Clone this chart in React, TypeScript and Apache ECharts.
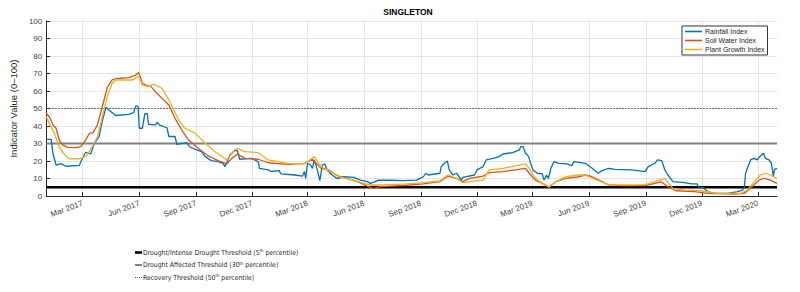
import React, { useEffect, useRef } from 'react';
import * as echarts from 'echarts';

const TITLE = 'SINGLETON';
const Y_NAME = 'Indicator Value (0–100)';
const START_DATE = '2017-01-01';
const END_DATE = '2020-04-01';
const TICK_MONTHS = ['03', '06', '09', '12'];
const MONTH_NAMES: Record<string, string> = { '03': 'Mar', '06': 'Jun', '09': 'Sep', '12': 'Dec' };

const rainfallIndex: [string, number][] = [
  ['2017-01-01', 32.4], ['2017-01-09', 32.4], ['2017-01-12', 24], ['2017-01-17', 17.7], ['2017-01-25', 18.5],
  ['2017-02-02', 17], ['2017-02-24', 17.5], ['2017-02-26', 19.6], ['2017-03-06', 25], ['2017-03-14', 24],
  ['2017-03-20', 30], ['2017-03-28', 34], ['2017-04-02', 43], ['2017-04-08', 50.7], ['2017-04-13', 49],
  ['2017-04-24', 46], ['2017-05-15', 46.7], ['2017-05-23', 47.6], ['2017-05-26', 51.4], ['2017-05-30', 51.4],
  ['2017-06-01', 38.7], ['2017-06-06', 38.7], ['2017-06-10', 47], ['2017-06-14', 47], ['2017-06-16', 41],
  ['2017-06-27', 40.6], ['2017-06-30', 42], ['2017-07-04', 40.5], ['2017-07-16', 39], ['2017-07-19', 34],
  ['2017-07-29', 34], ['2017-08-01', 29.5], ['2017-08-17', 30.5], ['2017-08-22', 28], ['2017-08-31', 26.7],
  ['2017-09-10', 25.3], ['2017-09-16', 22.5], ['2017-09-26', 20.2], ['2017-10-07', 19.6], ['2017-10-15', 18.7],
  ['2017-10-18', 16.8], ['2017-10-21', 19], ['2017-10-26', 23.4], ['2017-11-03', 26], ['2017-11-07', 26],
  ['2017-11-11', 21], ['2017-11-30', 21.5], ['2017-12-11', 19.6], ['2017-12-13', 15.8], ['2017-12-27', 14.9],
  ['2018-01-01', 14], ['2018-01-14', 14.5], ['2018-01-17', 12.6], ['2018-02-08', 12], ['2018-02-21', 11.4],
  ['2018-02-24', 14], ['2018-02-26', 10], ['2018-03-01', 18.7], ['2018-03-06', 17.7], ['2018-03-09', 15.8],
  ['2018-03-12', 20.6], ['2018-03-17', 14.9], ['2018-03-21', 8.8], ['2018-03-25', 17.7], ['2018-03-29', 18.3],
  ['2018-04-02', 14.9], ['2018-04-10', 12], ['2018-04-18', 10], ['2018-04-29', 11], ['2018-05-15', 10.7],
  ['2018-05-26', 9.1], ['2018-06-06', 8.2], ['2018-06-11', 7.2], ['2018-06-19', 8.2], ['2018-06-24', 9.1],
  ['2018-07-13', 9], ['2018-08-04', 8.8], ['2018-08-25', 9.1], ['2018-09-05', 11], ['2018-09-09', 13],
  ['2018-09-13', 12], ['2018-10-02', 13], ['2018-10-04', 16.8], ['2018-10-10', 19], ['2018-10-14', 20],
  ['2018-10-17', 14.9], ['2018-10-23', 12], ['2018-10-29', 13], ['2018-11-06', 9.1], ['2018-11-08', 10.7],
  ['2018-11-27', 12], ['2018-12-01', 14.9], ['2018-12-11', 16.8], ['2018-12-16', 20.6], ['2018-12-27', 21.5],
  ['2019-01-06', 22.5], ['2019-01-12', 24], ['2019-01-28', 24.8], ['2019-02-08', 26.3], ['2019-02-10', 28.2],
  ['2019-02-14', 28.2], ['2019-02-18', 24.4], ['2019-02-23', 22.5], ['2019-02-26', 18.7], ['2019-03-02', 14.9],
  ['2019-03-09', 13], ['2019-03-17', 12.6], ['2019-03-20', 9.1], ['2019-03-24', 12], ['2019-03-27', 10],
  ['2019-03-31', 15.8], ['2019-04-05', 19.6], ['2019-04-13', 18.7], ['2019-04-26', 18.3], ['2019-05-04', 17.3],
  ['2019-05-07', 19.6], ['2019-05-26', 18.7], ['2019-06-06', 15.8], ['2019-06-16', 13], ['2019-06-22', 14.5],
  ['2019-07-03', 15.8], ['2019-07-13', 15.2], ['2019-08-09', 14.9], ['2019-08-31', 13.9], ['2019-09-05', 16.8],
  ['2019-09-16', 18.7], ['2019-09-20', 20.6], ['2019-09-27', 20.2], ['2019-10-02', 14.9], ['2019-10-07', 12],
  ['2019-10-15', 8.2], ['2019-11-03', 7.6], ['2019-11-14', 6.9], ['2019-11-23', 6.9], ['2019-11-27', 4.4],
  ['2019-12-02', 5], ['2019-12-11', 2.5], ['2019-12-19', 1.5], ['2020-01-12', 1.5], ['2020-01-28', 2.5],
  ['2020-02-05', 3.4], ['2020-02-08', 5], ['2020-02-10', 13], ['2020-02-18', 20.6], ['2020-02-24', 21.5],
  ['2020-02-29', 20.6], ['2020-03-05', 22.9], ['2020-03-10', 24.4], ['2020-03-13', 21.5], ['2020-03-19', 20.6],
  ['2020-03-23', 18.7], ['2020-03-26', 11], ['2020-03-28', 15.2], ['2020-04-01', 15.8],
];

const soilWaterIndex: [string, number][] = [
  ['2017-01-01', 47.2], ['2017-01-06', 45.3], ['2017-01-12', 40.6], ['2017-01-17', 38.7], ['2017-01-22', 32],
  ['2017-01-28', 29.1], ['2017-02-05', 27.8], ['2017-02-18', 27.6], ['2017-02-26', 28.2], ['2017-03-06', 32],
  ['2017-03-12', 35.8], ['2017-03-18', 36.2], ['2017-03-25', 40.6], ['2017-04-02', 51], ['2017-04-10', 62],
  ['2017-04-18', 66.3], ['2017-04-24', 67], ['2017-05-15', 67.6], ['2017-05-26', 69.1], ['2017-05-31', 70.5],
  ['2017-06-06', 64.4], ['2017-06-14', 62.9], ['2017-06-19', 62.9], ['2017-06-27', 59.6], ['2017-07-08', 55.8],
  ['2017-07-19', 52], ['2017-07-29', 44.4], ['2017-08-09', 37.7], ['2017-08-20', 32], ['2017-09-05', 27.2],
  ['2017-09-21', 22.9], ['2017-10-07', 20.2], ['2017-10-21', 18.3], ['2017-10-29', 21.5], ['2017-11-08', 24],
  ['2017-11-19', 21.5], ['2017-12-11', 21], ['2017-12-27', 19], ['2018-01-28', 18.1], ['2018-02-24', 18.7],
  ['2018-03-09', 21], ['2018-03-23', 15.8], ['2018-04-05', 14.9], ['2018-04-18', 11.6], ['2018-05-04', 10.1],
  ['2018-05-21', 8.2], ['2018-06-06', 5.7], ['2018-06-16', 4.4], ['2018-06-27', 5.3], ['2018-08-04', 6],
  ['2018-09-05', 6.9], ['2018-10-02', 8.2], ['2018-10-15', 11.4], ['2018-10-29', 10.1], ['2018-11-08', 8.2],
  ['2018-11-19', 10.1], ['2018-12-11', 11.4], ['2018-12-21', 13.3], ['2019-01-12', 13.9], ['2019-02-18', 15.8],
  ['2019-02-24', 13], ['2019-03-06', 9.1], ['2019-03-17', 7.2], ['2019-03-28', 5.3], ['2019-04-08', 8.2],
  ['2019-04-24', 10.1], ['2019-05-15', 11], ['2019-05-26', 12], ['2019-06-06', 11], ['2019-06-22', 8.2],
  ['2019-07-03', 6.3], ['2019-07-24', 5.9], ['2019-08-31', 5.9], ['2019-09-16', 7.2], ['2019-09-26', 8.2],
  ['2019-10-07', 5.3], ['2019-10-20', 3], ['2019-11-19', 2.5], ['2019-12-11', 1.5], ['2020-01-23', 1.1],
  ['2020-02-08', 1.5], ['2020-02-18', 4.4], ['2020-03-03', 9.1], ['2020-03-11', 10.1], ['2020-03-21', 9.1],
  ['2020-04-01', 7.2],
];

const plantGrowthIndex: [string, number][] = [
  ['2017-01-01', 45.3], ['2017-01-06', 41.5], ['2017-01-14', 35.8], ['2017-01-22', 28.2], ['2017-01-31', 23.4],
  ['2017-02-08', 21.3], ['2017-02-24', 21.3], ['2017-03-06', 22.5], ['2017-03-17', 28.2], ['2017-03-25', 33.9],
  ['2017-04-02', 45.3], ['2017-04-10', 56.8], ['2017-04-18', 64.4], ['2017-04-24', 66.3], ['2017-05-21', 66.3],
  ['2017-05-31', 68.6], ['2017-06-06', 63.4], ['2017-06-16', 62.5], ['2017-06-24', 64], ['2017-07-08', 61.5],
  ['2017-07-19', 54.9], ['2017-08-04', 43.4], ['2017-08-14', 38.7], ['2017-08-31', 35.8], ['2017-09-16', 30.1],
  ['2017-10-02', 25.3], ['2017-10-21', 20.6], ['2017-11-03', 26.3], ['2017-11-08', 27.2], ['2017-11-19', 25.3],
  ['2017-12-11', 24.8], ['2017-12-27', 20.6], ['2018-01-28', 18.7], ['2018-02-24', 18.3], ['2018-03-12', 22.5],
  ['2018-03-23', 16.8], ['2018-04-08', 13.9], ['2018-04-24', 10.7], ['2018-05-15', 9.1], ['2018-05-31', 7.2],
  ['2018-06-11', 6.3], ['2018-07-02', 6.3], ['2018-08-04', 6.8], ['2018-09-05', 7.6], ['2018-10-02', 8.6],
  ['2018-10-15', 12], ['2018-10-29', 10.1], ['2018-11-08', 7.6], ['2018-11-19', 8.2], ['2018-12-11', 9.1],
  ['2018-12-21', 14.9], ['2019-01-12', 15.8], ['2019-02-18', 18.3], ['2019-02-24', 15.8], ['2019-03-06', 10.1],
  ['2019-03-17', 7.2], ['2019-03-28', 5], ['2019-04-08', 8.2], ['2019-04-24', 11], ['2019-05-15', 12],
  ['2019-05-26', 12], ['2019-06-11', 9.5], ['2019-07-03', 6.3], ['2019-08-14', 6.3], ['2019-08-31', 6.5],
  ['2019-09-16', 8.2], ['2019-10-02', 10.1], ['2019-10-15', 4.4], ['2019-11-03', 3.4], ['2019-11-30', 3],
  ['2019-12-27', 1.5], ['2020-02-02', 1.5], ['2020-02-13', 3.4], ['2020-02-24', 8.2], ['2020-03-05', 12],
  ['2020-03-13', 13], ['2020-03-21', 12], ['2020-04-01', 10.1],
];

const SERIES_NAMES = ['Rainfall Index', 'Soil Water Index', 'Plant Growth Index'];
const SERIES_COLORS = ['#0072BD', '#D95319', '#EDB120'];

const THRESHOLD_VALUES = [5, 30, 50];
const THRESHOLD_LABELS = [
  ['Drought/Intense Drought Threshold (5', 'th', ' percentile)'],
  ['Drought Affected Threshold (30', 'th', ' percentile)'],
  ['Recovery Threshold (50', 'th', ' percentile)'],
];

const FONT = 'Liberation Sans, Arial, sans-serif';
const NARROW = '"Liberation Sans Narrow", "DejaVu Sans Condensed", "Liberation Sans", sans-serif';

function buildDays(start: string, end: string): string[] {
  const out: string[] = [];
  const d = new Date(start + 'T00:00:00Z');
  const e = new Date(end + 'T00:00:00Z');
  while (d.getTime() <= e.getTime()) {
    out.push(d.toISOString().slice(0, 10));
    d.setUTCDate(d.getUTCDate() + 1);
  }
  return out;
}

const isTick = (v: string) => v.slice(8) === '01' && TICK_MONTHS.includes(v.slice(5, 7));

export default function App() {
  const ref = useRef<HTMLDivElement>(null);
  useEffect(() => {
    if (!ref.current) return;
    const chart = echarts.init(ref.current, undefined, { renderer: 'svg' });
    const days = buildDays(START_DATE, END_DATE);
    const tickFn = (_i: number, v: string) => isTick(v);

    const thresholdStyles = [
      { color: '#000000', width: 2.6, type: 'solid' as any },
      { color: '#808080', width: 2, type: 'solid' as any },
      { color: '#4a4a4a', width: 1, type: [1.5, 1.5] as any },
    ];

    const thresholdSeries = THRESHOLD_VALUES.map((v, i) => ({
      type: 'line',
      name: 'thr' + i,
      data: [[START_DATE, v], [END_DATE, v]],
      symbol: 'none',
      silent: true,
      lineStyle: thresholdStyles[i],
      z: 1,
    }));

    const dataSeries = [rainfallIndex, soilWaterIndex, plantGrowthIndex].map((d, i) => ({
      type: 'line',
      name: SERIES_NAMES[i],
      data: d,
      symbol: 'none',
      showSymbol: false,
      lineStyle: { color: SERIES_COLORS[i], width: 1.3 },
      itemStyle: { color: SERIES_COLORS[i] },
      z: 3 + i,
    }));

    const legendGraphics: any[] = [];
    const rowsY = [252.5, 265, 277.5];
    THRESHOLD_VALUES.forEach((_v, i) => {
      const st = thresholdStyles[i];
      legendGraphics.push({
        type: 'line',
        shape: { x1: 135, y1: rowsY[i], x2: 142, y2: rowsY[i] },
        style: { stroke: st.color, lineWidth: st.width, lineDash: Array.isArray(st.type) ? [1, 1] : null },
      });
      const [a, sup, b] = THRESHOLD_LABELS[i];
      legendGraphics.push({
        type: 'text',
        x: 143,
        y: rowsY[i],
        style: {
          text: `{m|${a}}{s|${sup}}{m|${b}}`,
          verticalAlign: 'middle',
          rich: {
            m: { fontSize: 6.8, fontFamily: NARROW, fill: '#262626' },
            s: { fontSize: 4.2, fontFamily: NARROW, fill: '#262626', verticalAlign: 'top', padding: [0, 0, 4, 0] },
          },
        },
      });
    });

    chart.setOption({
      animation: false,
      grid: { left: 40, right: 23, top: 21, bottom: 96, containLabel: false },
      graphic: [
        {
          type: 'text',
          x: 408,
          y: 12,
          style: {
            text: TITLE,
            textAlign: 'center',
            textVerticalAlign: 'middle',
            fontSize: 8.5,
            fontWeight: 'bold',
            fontFamily: FONT,
            fill: '#000',
          },
        },
        ...legendGraphics,
      ],
      legend: {
        data: SERIES_NAMES,
        orient: 'vertical',
        left: 682,
        top: 26,
        icon: 'rect',
        itemWidth: 17,
        itemHeight: 1.6,
        itemGap: 0,
        padding: [1, 3, 1, 3],
        borderColor: '#333',
        borderWidth: 1,
        borderRadius: 0,
        backgroundColor: '#fff',
        textStyle: { fontSize: 7, lineHeight: 9, fontFamily: FONT, color: '#262626', padding: [0, 0, 0, -2] },
      },
      xAxis: {
        type: 'category',
        data: days,
        boundaryGap: false,
        axisLine: { show: true, lineStyle: { color: '#262626', width: 1 } },
        axisTick: { show: true, inside: true, length: 4, interval: tickFn, lineStyle: { color: '#262626' } },
        axisLabel: {
          interval: tickFn,
          rotate: 20,
          margin: 7,
          fontSize: 8,
          fontFamily: FONT,
          color: '#404040',
          formatter: (v: string) => `${MONTH_NAMES[v.slice(5, 7)]} ${v.slice(0, 4)}`,
        },
        splitLine: { show: true, interval: tickFn, lineStyle: { color: '#e3e3e3', width: 1 } },
      },
      yAxis: {
        type: 'value',
        min: 0,
        max: 100,
        interval: 10,
        name: Y_NAME,
        nameLocation: 'middle',
        nameGap: 22,
        nameTextStyle: { fontSize: 9.5, fontFamily: FONT, color: '#262626' },
        axisLine: { show: true, lineStyle: { color: '#262626', width: 1 } },
        axisTick: { show: true, inside: true, length: 4, lineStyle: { color: '#262626' } },
        axisLabel: { fontSize: 8, fontFamily: FONT, color: '#404040', margin: 4 },
        splitLine: { show: true, lineStyle: { color: '#e3e3e3', width: 1 } },
      },
      series: [...thresholdSeries, ...dataSeries],
    });
    return () => chart.dispose();
  }, []);
  return (
    <div
      ref={ref}
      style={{ position: 'fixed', left: 0, top: 0, width: 800, height: 292, background: '#fff' }}
    />
  );
}
